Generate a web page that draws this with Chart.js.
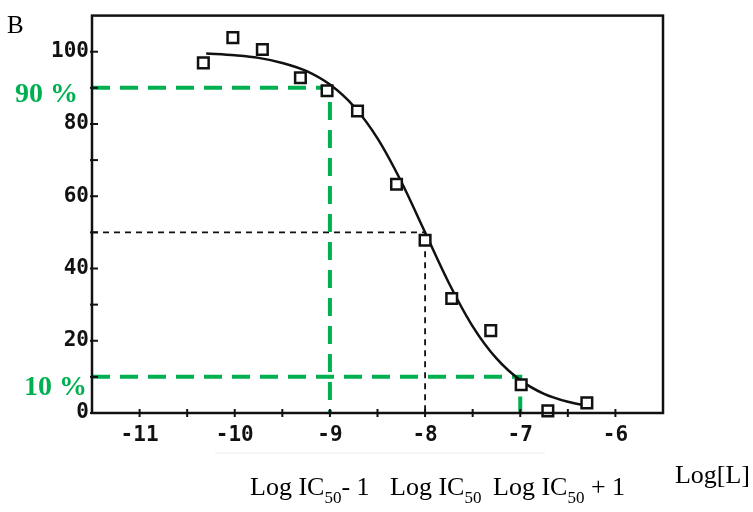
<!DOCTYPE html>
<html>
<head>
<meta charset="utf-8">
<script src="https://cdn.jsdelivr.net/npm/chart.js@4/dist/chart.umd.min.js"></script>
<style>
  html, body { margin: 0; padding: 0; background: #fff; }
  canvas { display: block; }
</style>
</head>
<body>
<canvas id="doseChart" width="753" height="512"></canvas>
<script>
// measured points (log concentration vs % response)
const pointX = [-10.33, -10.02, -9.71, -9.31, -9.03, -8.71, -8.30, -8.00, -7.72, -7.31, -6.99, -6.71, -6.30];
const pointY = [96.9, 103.9, 100.6, 92.8, 89.2, 83.6, 63.3, 47.8, 31.7, 22.8, 7.8, 0.6, 2.8];

// fitted curve, read along its length
const curveX = [-10.3, -10.0, -9.75, -9.5, -9.25, -9.0, -8.75, -8.5, -8.25, -8.0, -7.75, -7.5, -7.25, -7.0, -6.75, -6.5, -6.3];
const curveY = [99.5, 99.0, 98.3, 96.9, 94.7, 90.9, 84.9, 76.0, 64.0, 50.0, 36.0, 24.0, 15.1, 9.1, 5.3, 3.1, 2.0];

// guide levels
const logIC50 = -8;
const level90 = 90, level10 = 10, level50 = 50;

const xTickValues = [-11, -10, -9, -8, -7, -6];
const xTickLabels = ['-11', '-10', '-9', '-8', '-7', '-6'];
const yTickValues = [0, 20, 40, 60, 80, 100];
const yTickLabels = ['0', '20', '40', '60', '80', '100'];

const GREEN = '#00b050';
const tickFont = { family: 'DejaVu Sans Mono', size: 21, weight: 'bold' };

function toXY(xs, ys) {
    return xs.map((x, i) => ({ x: x, y: ys[i] }));
}

// frame, crossing tick marks and the annotation texts
const decor = {
    id: 'decor',
    afterDraw(chart) {
        const ctx = chart.ctx;
        const a = chart.chartArea;
        const xs = chart.scales.x, ys = chart.scales.y;
        ctx.save();
        ctx.strokeStyle = '#111';
        ctx.lineWidth = 2.5;
        ctx.strokeRect(a.left, a.top, a.right - a.left, a.bottom - a.top);

        ctx.lineWidth = 2;
        for (let v = -11; v <= -6; v += 0.5) {
            const px = xs.getPixelForValue(v);
            ctx.beginPath(); ctx.moveTo(px, a.bottom - 4); ctx.lineTo(px, a.bottom + 4); ctx.stroke();
        }
        for (let v = 0; v <= 100; v += 10) {
            const py = ys.getPixelForValue(v);
            ctx.beginPath(); ctx.moveTo(a.left - 2, py); ctx.lineTo(a.left + 6, py); ctx.stroke();
        }

        // faint scan residue under the axis
        ctx.strokeStyle = 'rgba(0,0,0,0.04)';
        ctx.lineWidth = 2;
        ctx.beginPath(); ctx.moveTo(215, 453); ctx.lineTo(545, 453); ctx.stroke();

        ctx.fillStyle = '#000';
        ctx.textBaseline = 'alphabetic';
        ctx.font = '25px "Liberation Serif"';
        ctx.fillText('B', 7, 33);

        ctx.fillStyle = GREEN;
        ctx.font = 'bold 28px "Liberation Serif"';
        ctx.textAlign = 'right';
        ctx.textBaseline = 'middle';
        ctx.fillText('90 %', 78, ys.getPixelForValue(level90) + 7);
        ctx.fillText('10 %', 87, ys.getPixelForValue(level10) + 11);

        // x-axis captions with subscripts
        ctx.fillStyle = '#000';
        ctx.textAlign = 'left';
        ctx.textBaseline = 'alphabetic';
        const big = '26px "Liberation Serif"', small = '17px "Liberation Serif"';
        function caption(x, tail) {
            ctx.font = big;
            ctx.fillText('Log IC', x, 495);
            x += ctx.measureText('Log IC').width;
            ctx.font = small;
            ctx.fillText('50', x, 503);
            x += ctx.measureText('50').width;
            ctx.font = big;
            ctx.fillText(tail, x, 495);
        }
        caption(250, '- 1');
        caption(390, '');
        caption(493, ' + 1');
        ctx.font = big;
        ctx.textAlign = 'right';
        ctx.fillText('Log[L]', 750, 483);
        ctx.restore();
    }
};

new Chart(document.getElementById('doseChart'), {
    type: 'scatter',
    data: {
        datasets: [
            {
                label: 'points',
                data: toXY(pointX, pointY),
                pointStyle: 'rect',
                pointRadius: 7.5,
                backgroundColor: '#fff',
                borderColor: '#111',
                borderWidth: 2.5,
                clip: false,
                order: 0
            },
            {
                type: 'line',
                label: 'fit',
                data: toXY(curveX, curveY),
                borderColor: '#111',
                borderWidth: 2.5,
                pointRadius: 0,
                cubicInterpolationMode: 'monotone',
                fill: false,
                order: 1
            },
            {
                type: 'line',
                label: '90',
                data: [{ x: -11.5, y: level90 }, { x: logIC50 - 1, y: level90 }, { x: logIC50 - 1, y: 0 }],
                borderColor: GREEN,
                borderWidth: 4,
                borderDash: [18, 10],
                pointRadius: 0,
                fill: false,
                order: 2
            },
            {
                type: 'line',
                label: '10',
                data: [{ x: -11.5, y: level10 }, { x: logIC50 + 1, y: level10 }, { x: logIC50 + 1, y: 0 }],
                borderColor: GREEN,
                borderWidth: 4,
                borderDash: [18, 10],
                pointRadius: 0,
                fill: false,
                order: 2
            },
            {
                type: 'line',
                label: '50',
                data: [{ x: -11.5, y: level50 }, { x: logIC50, y: level50 }, { x: logIC50, y: 0 }],
                borderColor: '#111',
                borderWidth: 1.8,
                borderDash: [6, 5],
                pointRadius: 0,
                fill: false,
                order: 2
            }
        ]
    },
    options: {
        responsive: false,
        animation: false,
        devicePixelRatio: 1,
        layout: { padding: { top: 15, right: 90, left: 0, bottom: 0 } },
        plugins: { legend: { display: false }, tooltip: { enabled: false } },
        scales: {
            x: {
                type: 'linear',
                min: -11.5,
                max: -5.5,
                afterFit(s) { s.height = 99; },
                afterBuildTicks(s) { s.ticks = xTickValues.map(v => ({ value: v })); },
                grid: { display: false, drawTicks: false },
                border: { display: false },
                ticks: {
                    autoSkip: false,
                    maxRotation: 0,
                    padding: 10,
                    color: '#111',
                    font: tickFont,
                    callback(v) { return xTickLabels[xTickValues.indexOf(v)]; }
                }
            },
            y: {
                min: 0,
                max: 110,
                afterFit(s) { s.width = 92; },
                afterBuildTicks(s) { s.ticks = yTickValues.map(v => ({ value: v })); },
                grid: { display: false, drawTicks: false },
                border: { display: false },
                ticks: {
                    autoSkip: false,
                    padding: 3,
                    color: '#111',
                    font: tickFont,
                    callback(v) { return yTickLabels[yTickValues.indexOf(v)]; }
                }
            }
        }
    },
    plugins: [decor]
});
</script>
</body>
</html>
